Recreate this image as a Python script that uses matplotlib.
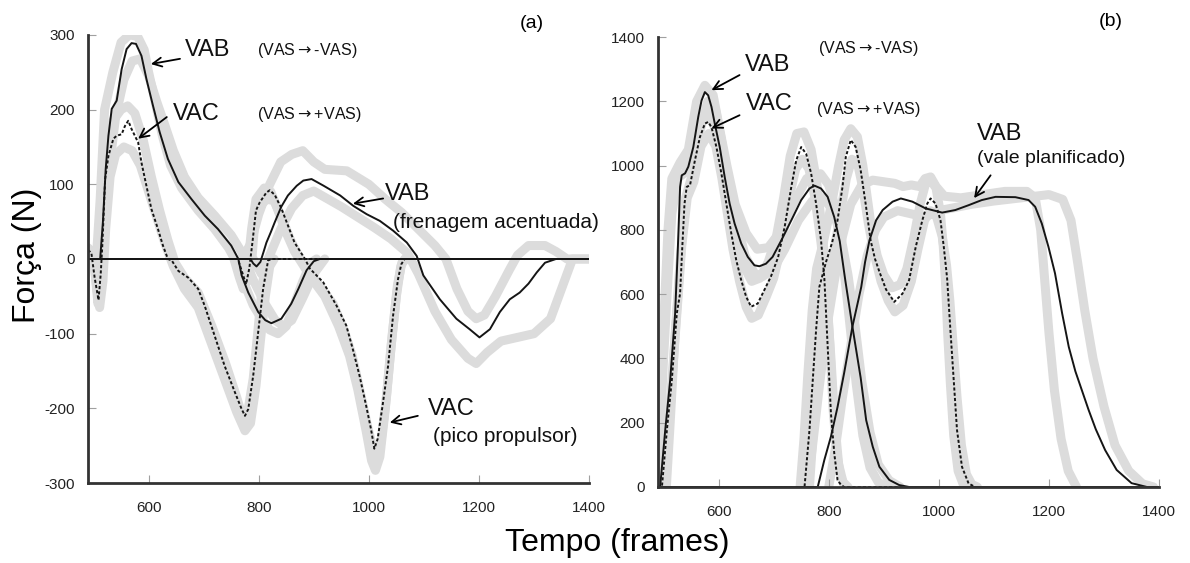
"""Two-panel force curves (VAB vs VAC) with gray +/- SD envelopes."""

import matplotlib

matplotlib.use("Agg")
import matplotlib.pyplot as plt

FONT = ["Liberation Sans", "DejaVu Sans"]
plt.rcParams["font.family"] = FONT
plt.rcParams["axes.unicode_minus"] = False

X_LIM = (490, 1400)
X_TICKS = [600, 800, 1000, 1200, 1400]
A_Y_TICKS = [-300, -200, -100, 0, 100, 200, 300]
B_Y_TICKS = [0, 200, 400, 600, 800, 1000, 1200, 1400]

# ---- panel (a): mean curves, (frame, N) ----
A_VAB1 = [(490, 0), (512, 0), (517, 50), (522, 120), (527, 165), (533, 201), (542, 212),
          (551, 254), (560, 281), (569, 289), (577, 288), (587, 272), (596, 241), (608, 205),
          (620, 170), (635, 134), (654, 103), (678, 80), (702, 58), (726, 40), (750, 18),
          (763, 0), (769, -22), (781, -45), (799, -71), (812, -82), (823, -86), (841, -80),
          (859, -60), (872, -40), (887, -15), (900, -3), (911, 0), (1400, 0)]
A_VAB2 = [(490, 0), (785, 0), (790, -6), (796, -10), (803, -4), (809, 10), (814, 22),
          (822, 36), (829, 49), (841, 70), (853, 85), (869, 98), (881, 105), (896, 107),
          (918, 98), (948, 85), (972, 71), (996, 60), (1020, 51), (1044, 38), (1069, 22),
          (1087, 4), (1099, -22), (1114, -38), (1129, -54), (1159, -80), (1183, -94),
          (1201, -105), (1220, -94), (1238, -71), (1256, -54), (1274, -45), (1290, -33),
          (1305, -18), (1320, -5), (1340, 0), (1400, 0)]
A_VAC1 = [(490, 12), (496, 8), (502, -25), (509, -55), (513, -20), (516, 20), (521, 107),
          (527, 138), (536, 161), (542, 165), (551, 167), (557, 178), (563, 185), (569, 174),
          (575, 165), (581, 156), (587, 129), (596, 98), (605, 67), (617, 40), (626, 18),
          (635, 0), (642, -2), (654, -16), (672, -25), (690, -40), (702, -63), (720, -103),
          (738, -143), (757, -179), (769, -201), (775, -210), (781, -201), (790, -156),
          (799, -98), (808, -40), (817, -2), (823, 0), (1400, 0)]
A_VAC2 = [(490, 0), (762, 0), (770, -18), (777, -34), (783, -12), (789, 25), (795, 65),
          (802, 76), (814, 89), (820, 92), (829, 86), (841, 68), (853, 45), (865, 22),
          (884, 0), (893, -13), (917, -31), (941, -62), (959, -89), (971, -121), (983, -156),
          (995, -196), (1004, -228), (1010, -254), (1016, -241), (1025, -196), (1035, -143),
          (1044, -76), (1053, -27), (1059, -7), (1065, 0), (1400, 0)]

# ---- panel (a): gray SD envelopes ----
A_VAB1_HI = [(490, 0), (505, 0), (512, 80), (520, 200), (535, 250), (550, 290), (565, 300),
             (580, 298), (592, 280), (600, 250), (612, 210), (625, 165), (640, 125), (660, 95),
             (690, 65), (720, 40), (745, 15), (760, -5), (775, -35), (790, -62), (805, -80),
             (820, -95), (835, -100), (850, -90), (865, -60), (880, -30), (895, -5), (905, 0)]
A_VAB1_LO = [(515, 0), (525, 100), (540, 190), (555, 240), (570, 265), (585, 268), (600, 245),
             (615, 210), (630, 178), (645, 145), (665, 110), (690, 82), (720, 58), (750, 32),
             (770, 8), (790, -28), (810, -58), (830, -82), (845, -90), (860, -82), (880, -52),
             (900, -20), (920, 0)]
A_VAB2_HI = [(770, 0), (785, 20), (800, 60), (820, 100), (840, 130), (860, 140), (880, 145),
             (900, 130), (920, 120), (960, 118), (1000, 100), (1030, 80), (1060, 62),
             (1090, 40), (1120, 18), (1140, 0), (1160, -40), (1180, -70), (1195, -80),
             (1210, -75), (1230, -50), (1255, -15), (1270, 5), (1290, 18), (1320, 18),
             (1340, 10), (1360, 0), (1400, 0)]
A_VAB2_LO = [(790, 0), (805, -20), (820, 5), (840, 40), (860, 68), (880, 85), (900, 91),
             (950, 70), (1010, 42), (1040, 27), (1070, 8), (1090, -20), (1120, -70),
             (1150, -108), (1180, -133), (1195, -140), (1215, -125), (1240, -110),
             (1270, -105), (1300, -100), (1330, -80), (1350, -40), (1370, 0), (1400, 0)]
A_VAC1_HI = [(490, 15), (497, 10), (503, -20), (508, -60), (514, -30), (519, 60), (525, 150),
             (535, 185), (550, 200), (562, 205), (575, 195), (590, 160), (605, 110), (620, 65),
             (635, 25), (648, -5), (665, -25), (690, -45), (715, -90), (740, -140), (760, -185),
             (772, -215), (780, -205), (790, -160), (798, -100), (806, -40), (812, -5), (820, 0)]
A_VAC1_LO = [(500, 0), (506, -40), (511, -65), (517, -30), (522, 40), (530, 110), (540, 140),
             (555, 150), (570, 145), (585, 125), (600, 90), (615, 55), (630, 20), (645, -10),
             (665, -40), (690, -65), (715, -115), (740, -165), (760, -205), (775, -230),
             (785, -220), (795, -170), (803, -110), (812, -50), (820, -10), (828, 0)]
A_VAC2_HI = [(755, 0), (765, -25), (772, -40), (780, -10), (787, 40), (795, 80), (810, 95),
             (822, 90), (835, 65), (850, 35), (865, 10), (878, -5), (895, -25), (920, -50),
             (945, -90), (965, -130), (980, -175), (995, -230), (1005, -270), (1012, -283),
             (1020, -265), (1030, -200), (1040, -120), (1050, -50), (1058, -10), (1065, 0)]
A_VAC2_LO = [(765, 0), (773, -20), (780, -30), (787, -5), (793, 50), (800, 70), (815, 80),
             (828, 78), (842, 55), (858, 25), (872, 5), (888, -15), (910, -35), (935, -60),
             (955, -95), (970, -130), (985, -180), (998, -225), (1008, -255), (1015, -262),
             (1022, -245), (1032, -185), (1042, -105), (1052, -35), (1060, -5), (1068, 0)]

# ---- panel (b): mean curves ----
B_VAB1 = [(490, 0), (494, 5), (503, 177), (512, 333), (521, 540), (526, 747), (530, 934),
          (533, 970), (539, 976), (545, 997), (554, 1058), (563, 1152), (569, 1203),
          (575, 1229), (581, 1219), (587, 1183), (593, 1131), (602, 1058), (611, 965),
          (620, 882), (629, 820), (641, 758), (653, 716), (665, 690), (674, 687), (686, 695),
          (698, 716), (714, 768), (732, 830), (750, 893), (765, 929), (774, 938), (786, 929),
          (798, 903), (810, 840), (820, 765), (830, 644), (843, 499), (858, 340), (868, 208),
          (880, 125), (892, 63), (910, 22), (928, 6), (946, 0), (1400, 0)]
B_VAB2 = [(490, 0), (780, 0), (792, 84), (804, 157), (816, 249), (828, 355), (843, 499),
          (859, 622), (866, 700), (874, 768), (886, 830), (898, 862), (916, 888), (931, 898),
          (952, 888), (976, 867), (1006, 854), (1030, 862), (1054, 877), (1078, 893),
          (1103, 903), (1139, 902), (1163, 893), (1175, 872), (1187, 820), (1199, 748),
          (1211, 665), (1224, 540), (1236, 436), (1248, 360), (1260, 300), (1272, 240),
          (1285, 180), (1302, 115), (1323, 53), (1350, 12), (1378, 0), (1400, 0)]
B_VAC1 = [(490, 0), (497, 0), (506, 177), (515, 333), (524, 540), (530, 602), (534, 747),
          (538, 881), (542, 934), (548, 939), (557, 1017), (566, 1089), (575, 1131),
          (581, 1136), (587, 1120), (596, 1058), (605, 976), (614, 882), (623, 789),
          (632, 706), (641, 644), (650, 592), (659, 561), (671, 571), (683, 613), (695, 655),
          (708, 715), (720, 810), (732, 934), (741, 1017), (750, 1058), (759, 1037),
          (768, 976), (777, 882), (786, 768), (792, 650), (798, 440), (804, 229), (810, 105),
          (816, 22), (822, 7), (828, 0), (1400, 0)]
B_VAC2 = [(490, 0), (756, 0), (765, 177), (771, 333), (777, 488), (783, 623), (795, 700),
          (806, 760), (816, 830), (825, 934), (831, 1027), (840, 1080), (849, 1058),
          (858, 986), (867, 882), (876, 768), (884, 710), (892, 670), (904, 615), (919, 576),
          (934, 602), (946, 644), (958, 747), (970, 830), (979, 882), (985, 898), (994, 882),
          (1003, 830), (1009, 747), (1015, 650), (1021, 488), (1027, 333), (1033, 177),
          (1042, 63), (1054, 11), (1066, 0), (1400, 0)]

# ---- panel (b): gray SD envelopes ----
B_VAB1_HI = [(490, 0), (492, 200), (500, 500), (508, 800), (515, 960), (530, 1010),
             (545, 1050), (560, 1200), (575, 1250), (590, 1220), (600, 1130), (615, 1000),
             (630, 880), (650, 790), (670, 740), (690, 745), (710, 790), (735, 880),
             (760, 960), (785, 975), (800, 940), (812, 870), (822, 760), (830, 640),
             (840, 480), (850, 320), (862, 160), (875, 60), (890, 15), (905, 0)]
B_VAB1_LO = [(505, 0), (512, 200), (520, 450), (530, 700), (540, 900), (550, 960),
             (565, 1100), (580, 1200), (595, 1170), (605, 1080), (618, 950), (632, 830),
             (648, 720), (665, 665), (680, 655), (700, 680), (720, 740), (745, 830),
             (770, 890), (790, 900), (808, 860), (822, 780), (835, 660), (848, 500),
             (860, 330), (875, 170), (890, 70), (910, 20), (930, 0)]
B_VAB2_HI = [(760, 0), (770, 120), (782, 300), (795, 480), (810, 640), (825, 780),
             (840, 880), (860, 940), (880, 955), (900, 950), (920, 945), (935, 935),
             (950, 940), (965, 935), (975, 960), (985, 965), (995, 935), (1010, 905),
             (1040, 900), (1080, 910), (1120, 920), (1160, 920), (1175, 900), (1185, 800),
             (1192, 650), (1200, 480), (1210, 300), (1222, 150), (1235, 50), (1250, 0)]
B_VAB2_LO = [(800, 0), (812, 120), (825, 280), (840, 440), (855, 600), (870, 720),
             (885, 800), (900, 840), (925, 860), (950, 850), (975, 840), (1000, 860),
             (1030, 870), (1060, 880), (1100, 890), (1150, 900), (1200, 910), (1225, 895),
             (1240, 830), (1252, 700), (1265, 550), (1280, 400), (1300, 250), (1320, 130),
             (1345, 50), (1370, 10), (1390, 0)]
B_VAC1_HI = [(490, 0), (493, 150), (500, 400), (508, 650), (515, 850), (525, 960),
             (540, 980), (555, 1060), (570, 1140), (582, 1160), (595, 1110), (608, 1000),
             (620, 880), (632, 770), (645, 690), (660, 640), (675, 650), (690, 700),
             (705, 780), (718, 900), (730, 1030), (742, 1100), (755, 1105), (768, 1050),
             (778, 950), (788, 800), (795, 650), (802, 440), (808, 240), (815, 100),
             (822, 30), (830, 0)]
B_VAC1_LO = [(500, 0), (508, 150), (516, 350), (525, 560), (533, 750), (543, 900),
             (555, 950), (568, 1060), (582, 1100), (595, 1060), (606, 960), (616, 850),
             (626, 740), (638, 640), (650, 560), (660, 525), (672, 535), (686, 590),
             (700, 650), (715, 760), (728, 900), (740, 990), (752, 1020), (764, 990),
             (775, 900), (786, 760), (796, 600), (804, 400), (811, 200), (818, 70),
             (826, 15), (835, 0)]
B_VAC2_HI = [(748, 0), (755, 150), (762, 350), (770, 550), (778, 680), (790, 760),
             (805, 880), (818, 1000), (828, 1080), (840, 1115), (852, 1090), (862, 1000),
             (870, 900), (878, 800), (888, 720), (900, 660), (915, 620), (930, 630),
             (942, 680), (955, 780), (966, 880), (976, 945), (985, 955), (995, 930),
             (1003, 850), (1008, 750), (1012, 640), (1016, 480), (1021, 320), (1027, 160),
             (1035, 50), (1045, 5), (1055, 0)]
B_VAC2_LO = [(765, 0), (772, 180), (779, 380), (786, 560), (795, 650), (808, 720),
             (820, 840), (832, 960), (842, 1020), (852, 1010), (862, 930), (872, 820),
             (882, 730), (895, 640), (908, 580), (920, 545), (935, 565), (950, 640),
             (962, 740), (974, 830), (985, 860), (996, 840), (1006, 780), (1014, 690),
             (1020, 580), (1026, 440), (1033, 280), (1041, 130), (1050, 40), (1060, 8),
             (1070, 0)]

GRAY = "#dcdcdc"
INK = "#151515"
DOTTED = (0, (1.6, 1.1))
ARROW_TXT = "$\\rightarrow$"


def plot_pts(ax, pts, **kw):
    xs = [p[0] for p in pts]
    ys = [p[1] for p in pts]
    ax.plot(xs, ys, **kw)


def draw_panel(ax, means, bands, y_ticks):
    for band in bands:
        plot_pts(ax, band, color=GRAY, lw=6.5, solid_joinstyle="round",
                 solid_capstyle="round", zorder=1)
    for pts, dotted in means:
        if dotted:
            plot_pts(ax, pts, color=INK, lw=1.4, linestyle=DOTTED, zorder=3)
        else:
            plot_pts(ax, pts, color=INK, lw=1.4, zorder=4)

    ax.set_xlim(*X_LIM)
    ax.set_ylim(y_ticks[0], y_ticks[-1])
    ax.set_xticks(X_TICKS)
    ax.set_yticks(y_ticks)
    for side in ("top", "right"):
        ax.spines[side].set_visible(False)
    for side in ("left", "bottom"):
        ax.spines[side].set_linewidth(2.0)
        ax.spines[side].set_color("#333333")
        ax.spines[side].set_zorder(5)
    ax.tick_params(direction="in", length=6, width=0.8, color="#a0a0a0",
                   labelsize=11, labelcolor="#222222")
    ax.tick_params(axis="x", pad=13)
    ax.tick_params(axis="y", pad=9.5)


def arrow(ax, tip, tail):
    ax.annotate("", xy=tip, xytext=tail,
                arrowprops=dict(arrowstyle="->", lw=1.3, color="black",
                                shrinkA=0, shrinkB=0, mutation_scale=16),
                annotation_clip=False, zorder=6)


def label(ax, x, y, s, size, ha="left"):
    ax.text(x, y, s, fontsize=size, ha=ha, va="center", color="#111111",
            clip_on=False, zorder=6)


def main():
    fig = plt.figure(figsize=(11.9, 5.63), dpi=100)
    ax_a = fig.add_axes([0.074, 0.142, 0.421, 0.796])
    ax_b = fig.add_axes([0.553, 0.135, 0.421, 0.799])

    draw_panel(ax_a,
               [(A_VAB1, False), (A_VAB2, False), (A_VAC1, True), (A_VAC2, True)],
               [A_VAB1_HI, A_VAB1_LO, A_VAB2_HI, A_VAB2_LO,
                A_VAC1_HI, A_VAC1_LO, A_VAC2_HI, A_VAC2_LO],
               A_Y_TICKS)
    ax_a.axhline(0, color=INK, lw=1.2, zorder=3)

    draw_panel(ax_b,
               [(B_VAB1, False), (B_VAB2, False), (B_VAC1, True), (B_VAC2, True)],
               [B_VAB1_HI, B_VAB1_LO, B_VAB2_HI, B_VAB2_LO,
                B_VAC1_HI, B_VAC1_LO, B_VAC2_HI, B_VAC2_LO],
               B_Y_TICKS)

    # panel (a) annotations
    label(ax_a, 666, 280, "VAB", 17)
    label(ax_a, 797, 279, f"(VAS{ARROW_TXT}-VAS)", 11.5)
    label(ax_a, 644, 194, "VAC", 17)
    label(ax_a, 797, 193, f"(VAS{ARROW_TXT}+VAS)", 11.5)
    label(ax_a, 1029, 87, "VAB", 17)
    label(ax_a, 1043, 49, "(frenagem acentuada)", 15)
    label(ax_a, 1108, -201, "VAC", 17)
    label(ax_a, 1116, -238, "(pico propulsor)", 15)
    arrow(ax_a, (604, 261), (657, 268))
    arrow(ax_a, (581, 161), (633, 190))
    arrow(ax_a, (971, 74), (1026, 81))
    arrow(ax_a, (1038, -219), (1089, -210))

    # panel (b) annotations
    label(ax_b, 647, 1313, "VAB", 17)
    label(ax_b, 649, 1193, "VAC", 17)
    label(ax_b, 780, 1365, f"(VAS{ARROW_TXT}-VAS)", 11.5)
    label(ax_b, 776, 1175, f"(VAS{ARROW_TXT}+VAS)", 11.5)
    label(ax_b, 1069, 1100, "VAB", 17)
    label(ax_b, 1069, 1023, "(vale planificado)", 14)
    arrow(ax_b, (587, 1235), (638, 1282))
    arrow(ax_b, (587, 1116), (638, 1157))
    arrow(ax_b, (1064, 899), (1094, 970))

    fig.text(0.447, 0.959, "(a)", fontsize=14, ha="center", va="center")
    fig.text(0.933, 0.961, "(b)", fontsize=14, ha="center", va="center")
    fig.text(0.023, 0.547, "Força (N)", fontsize=23, rotation=90,
             ha="center", va="center")
    fig.text(0.519, 0.036, "Tempo (frames)", fontsize=23, ha="center", va="center")

    fig.savefig("out.png", dpi=100)
    plt.close(fig)
    return 0


if __name__ == "__main__":
    raise SystemExit(main())
